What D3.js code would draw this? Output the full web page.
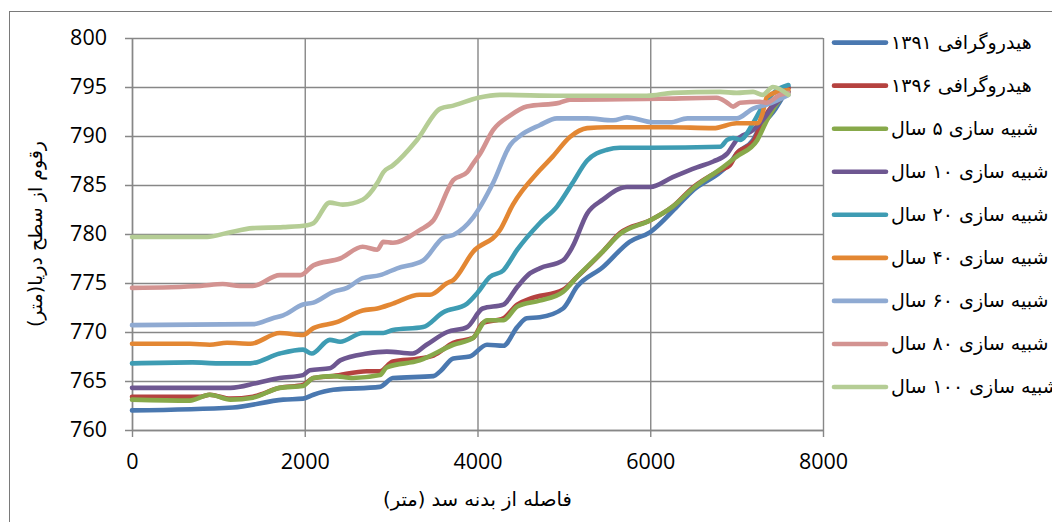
<!DOCTYPE html>
<html><head><meta charset="utf-8">
<script src="https://cdn.jsdelivr.net/npm/d3@7"></script>
<style>body{margin:0;background:#fff} svg{display:block}</style>
</head><body><svg id="c" width="1052" height="522"></svg>
<script>
// ---------- data ----------
const seriesNames = [
  "هیدروگرافی ۱۳۹۱",
  "هیدروگرافی ۱۳۹۶",
  "شبیه سازی ۵ سال",
  "شبیه سازی ۱۰ سال",
  "شبیه سازی ۲۰ سال",
  "شبیه سازی ۴۰ سال",
  "شبیه سازی ۶۰ سال",
  "شبیه سازی ۸۰ سال",
  "شبیه سازی ۱۰۰ سال"
];
const seriesColors = ["#4A78B0","#B5423F","#87A94A","#6E5791","#3E9CB3","#E38733","#8FAAD2","#D39391","#B5CD95"];

const hydro1391 = [[0,762.0],[1170,762.3],[1750,763.1],[1980,763.2],[2100,763.6],[2330,764.1],[2870,764.4],[3020,765.3],[3490,765.5],[3570,766.0],[3720,767.3],[3910,767.5],[4110,768.7],[4300,768.6],[4460,770.5],[4570,771.4],[4720,771.5],[4990,772.4],[5150,774.6],[5450,776.6],[5760,779.2],[6000,780.2],[6310,782.8],[6500,784.5],[6810,786.3],[6920,787.2],[7000,788.2],[7190,789.6],[7270,790.9],[7420,792.4],[7600,795.0]];
const hydro1396 = [[0,763.4],[790,763.4],[900,763.6],[1140,763.2],[1400,763.4],[1710,764.3],[1980,764.6],[2100,765.3],[2330,765.5],[2720,766.0],[2870,766.0],[3020,767.0],[3330,767.3],[3490,767.6],[3720,768.9],[3950,769.4],[4060,770.9],[4300,771.4],[4460,772.8],[4610,773.4],[4990,774.3],[5150,775.6],[5450,778.2],[5650,780.1],[6000,781.4],[6260,782.8],[6500,784.8],[6810,786.5],[6920,787.0],[7000,788.2],[7190,789.4],[7300,791.6],[7470,793.7],[7600,794.9]];
const sim5 = [[0,763.1],[670,763.0],[900,763.6],[1140,763.1],[1400,763.3],[1710,764.3],[1980,764.5],[2100,765.3],[2330,765.5],[2560,765.3],[2870,765.6],[2950,766.4],[3330,767.1],[3720,768.7],[3950,769.4],[4110,771.2],[4300,771.2],[4460,772.6],[4720,773.2],[4990,774.1],[5150,775.6],[5450,778.2],[5650,780.0],[6000,781.4],[6260,782.8],[6500,784.7],[6840,786.8],[7000,787.9],[7240,789.6],[7350,791.6],[7500,793.7],[7600,794.5]];
const sim10 = [[0,764.3],[1140,764.3],[1450,764.8],[1710,765.3],[1980,765.6],[2060,766.1],[2290,766.3],[2410,767.1],[2720,767.8],[2950,768.0],[3250,767.8],[3410,768.7],[3650,770.0],[3880,770.5],[4060,772.4],[4300,772.8],[4460,774.6],[4610,776.0],[4720,776.5],[4990,777.3],[5100,778.7],[5270,782.1],[5450,783.5],[5730,784.8],[6000,784.8],[6260,785.8],[6540,786.8],[6730,787.4],[6890,788.2],[7000,789.6],[7190,790.6],[7300,791.6],[7420,793.0],[7600,794.5]];
const sim20 = [[0,766.8],[700,766.9],[1000,766.8],[1370,766.8],[1710,767.8],[1980,768.2],[2080,767.8],[2290,769.2],[2410,769.0],[2670,769.9],[2910,769.9],[3020,770.2],[3370,770.5],[3600,772.0],[3880,772.9],[4000,774.0],[4140,775.6],[4300,776.3],[4460,778.4],[4720,781.1],[4920,782.8],[5100,785.2],[5270,787.5],[5500,788.6],[5650,788.8],[6000,788.8],[6810,788.9],[6890,789.6],[6960,789.8],[7040,789.6],[7190,791.3],[7300,793.0],[7470,794.7],[7600,795.2]];
const sim40 = [[0,768.8],[670,768.8],[900,768.7],[1100,768.9],[1370,768.8],[1710,769.9],[1980,769.7],[2100,770.4],[2370,771.0],[2670,772.2],[2840,772.4],[3020,772.9],[3330,773.8],[3450,773.8],[3650,775.0],[3720,775.3],[3950,778.2],[4260,780.4],[4410,783.0],[4720,786.5],[4870,787.9],[5070,789.9],[5270,790.8],[5500,790.9],[6200,790.9],[6730,790.8],[7000,791.3],[7240,791.3],[7300,792.3],[7350,794.0],[7470,794.5],[7600,794.7]];
const sim60 = [[0,770.7],[1400,770.8],[1630,771.4],[1750,771.7],[1980,772.8],[2100,773.0],[2330,774.1],[2490,774.5],[2670,775.5],[2870,775.8],[3070,776.5],[3370,777.3],[3600,779.6],[3720,779.9],[3950,781.7],[4180,785.2],[4380,789.1],[4490,790.0],[4720,791.1],[4920,791.8],[5270,791.8],[5570,791.6],[5730,791.9],[6030,791.4],[6230,791.4],[6430,791.8],[7000,791.8],[7190,792.8],[7350,793.2],[7600,794.2]];
const sim80 = [[0,774.5],[790,774.7],[1050,774.9],[1250,774.7],[1400,774.7],[1710,775.8],[1950,775.8],[2100,776.8],[2410,777.5],[2670,778.7],[2840,778.4],[2910,779.2],[3020,779.1],[3330,780.4],[3490,781.4],[3720,785.5],[3880,786.3],[3950,787.2],[4030,788.2],[4180,790.6],[4380,792.1],[4570,793.0],[4950,793.4],[5070,793.7],[6110,793.8],[6770,793.9],[6890,793.4],[6960,793.0],[7040,793.4],[7270,793.5],[7350,793.4],[7500,794.2],[7600,794.4]];
const sim100 = [[0,779.7],[870,779.7],[1100,780.1],[1400,780.6],[1750,780.7],[2030,780.9],[2100,781.1],[2290,783.2],[2440,783.0],[2670,783.5],[2840,785.2],[2910,786.3],[3020,787.0],[3300,789.6],[3570,792.8],[3720,793.1],[4010,793.9],[4260,794.2],[4960,794.1],[5960,794.1],[6260,794.4],[6810,794.5],[7000,794.4],[7190,794.5],[7300,794.2],[7420,795.0],[7600,794.2]];

const seriesValues = [hydro1391, hydro1396, sim5, sim10, sim20, sim40, sim60, sim80, sim100];
const xTickValues = [0, 2000, 4000, 6000, 8000];
const yTickValues = [760, 765, 770, 775, 780, 785, 790, 795, 800];
const xTitle = "فاصله از بدنه سد (متر)";
const yTitle = "رقوم از سطح دریا(متر)";

// ---------- drawing ----------
const svg = d3.select("#c");
const m = {l:132, r:823, t:38, b:430};
const x = d3.scaleLinear().domain([0, 8000]).range([m.l, m.r]);
const y = d3.scaleLinear().domain([760, 800]).range([m.b, m.t]);
const grid = "#878787";
const numFont = "'Open Sans', 'DejaVu Sans', sans-serif";
const faFont = "'DejaVu Sans', sans-serif";

svg.append("rect").attr("width",1052).attr("height",522).attr("fill","#fff");
svg.append("rect").attr("x",9.5).attr("y",11.5).attr("width",1200).attr("height",700)
  .attr("fill","none").attr("stroke","#7a7a7a").attr("stroke-width",1);

// Y axis + horizontal grid
const gY = svg.append("g").attr("transform",`translate(${m.l},0)`)
  .call(d3.axisLeft(y).tickValues(yTickValues).tickSizeInner(-(m.r-m.l)).tickSizeOuter(0).tickPadding(25).tickFormat(d3.format("d")));
gY.selectAll(".tick line").attr("x1",-7).attr("stroke",grid).attr("stroke-width",1.4);
gY.select(".domain").attr("stroke",grid).attr("stroke-width",1.4);
gY.selectAll("text").attr("font-family",numFont).attr("font-size",21.5).attr("fill","#000");

// X axis + vertical grid
const gX = svg.append("g").attr("transform",`translate(0,${m.b})`)
  .call(d3.axisBottom(x).tickValues(xTickValues).tickSizeInner(-(m.b-m.t)).tickSizeOuter(0).tickPadding(24).tickFormat(d3.format("d")));
gX.selectAll(".tick line").attr("y1",7).attr("stroke",grid).attr("stroke-width",1.4);
gX.select(".domain").attr("stroke",grid).attr("stroke-width",1.4);
gX.selectAll("text").attr("font-family",numFont).attr("font-size",21.5).attr("fill","#000");

// lines
const line = d3.line().x(d => x(d[0])).y(d => y(d[1])).curve(d3.curveMonotoneX);
seriesValues.forEach((s, i) => {
  svg.append("path").datum(s).attr("d", line).attr("fill","none")
    .attr("stroke", seriesColors[i]).attr("stroke-width",4.6)
    .attr("stroke-linejoin","round").attr("stroke-linecap","round");
});

// legend
const lg = svg.append("g");
seriesNames.forEach((n, i) => {
  const ly = 42.6 + i * 43.05;
  lg.append("line").attr("x1",834).attr("x2",886).attr("y1",ly).attr("y2",ly)
    .attr("stroke",seriesColors[i]).attr("stroke-width",4.6).attr("stroke-linecap","round");
  lg.append("text").attr("x",891).attr("y",ly+6).attr("direction","rtl").attr("text-anchor","end")
    .attr("font-family",faFont).attr("font-size",19).attr("fill","#000").text(n);
});

// axis titles
svg.append("text").attr("x",(m.l+m.r)/2).attr("y",506).attr("text-anchor","middle").attr("direction","rtl")
  .attr("font-family",faFont).attr("font-size",19.5).attr("fill","#000").text(xTitle);
svg.append("text").attr("transform",`translate(42,${(m.t+m.b)/2}) rotate(-90)`).attr("text-anchor","middle").attr("direction","rtl")
  .attr("font-family",faFont).attr("font-size",19).attr("fill","#000").text(yTitle);
</script></body></html>
